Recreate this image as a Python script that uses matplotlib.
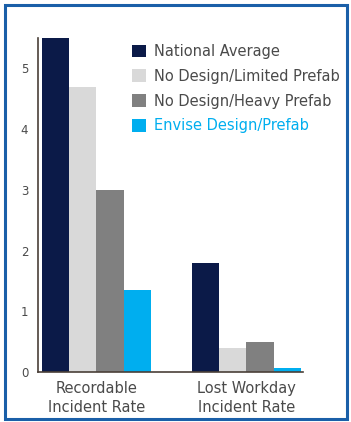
import numpy as np
import matplotlib.pyplot as plt
from matplotlib.patches import Rectangle

categories = ["Recordable\nIncident Rate", "Lost Workday\nIncident Rate"]
series = ["National Average", "No Design/Limited Prefab",
          "No Design/Heavy Prefab", "Envise Design/Prefab"]
national = [5.5, 1.8]
limited = [4.7, 0.4]
heavy = [3.0, 0.5]
envise = [1.35, 0.07]
colors = ["#0b1a48", "#d9d9d9", "#808080", "#00aeef"]

plt.rcParams['font.family'] = ['DejaVu Sans']

fig = plt.figure(figsize=(3.51, 4.22), dpi=100)
ax = fig.add_axes([0.108, 0.118, 0.755, 0.792])

x = np.arange(len(categories))
w = 0.182
handles = []
for i, (vals, name) in enumerate(zip([national, limited, heavy, envise], series)):
    h = ax.bar(x + (i - 1.5) * w, vals, w, color=colors[i], label=name)
    handles.append(h)

ax.set_xlim(-0.39, 1.377)
ax.set_ylim(0, 5.5)
ax.set_yticks([0, 1, 2, 3, 4, 5])
ax.tick_params(axis="both", length=0, labelsize=8.5, colors="#4a4a4a")
ax.tick_params(axis="y", pad=7)
ax.tick_params(axis="x", pad=6)
ax.set_xticks(x)
ax.set_xticklabels(categories, fontsize=10.5, color="#4a4a4a", linespacing=1.35)
for s in ["top", "right"]:
    ax.spines[s].set_visible(False)
for s in ["left", "bottom"]:
    ax.spines[s].set_color("#4a4038")
    ax.spines[s].set_linewidth(1.2)

leg = ax.legend(handles=handles, loc="upper left", bbox_to_anchor=(0.355, 0.982),
                frameon=False, fontsize=10.5, handlelength=0.95, handleheight=0.95,
                handletextpad=0.55, labelspacing=0.67, borderaxespad=0, borderpad=0)
for t in leg.get_texts():
    t.set_color("#4a4a4a")
leg.get_texts()[3].set_color("#00aeef")

fig.patches.append(Rectangle((0.014, 0.008), 0.975, 0.98, transform=fig.transFigure,
                             fill=False, edgecolor="#1a5fa8", linewidth=2.2))

fig.savefig("out.png", dpi=100)
